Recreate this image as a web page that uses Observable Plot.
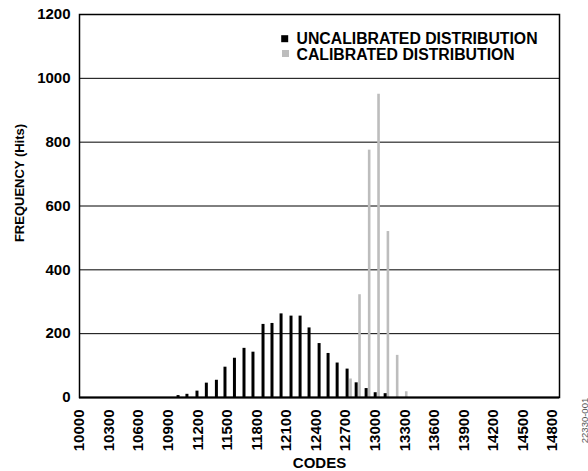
<!DOCTYPE html>
<html><head><meta charset="utf-8">
<script src="https://cdn.jsdelivr.net/npm/d3@7"></script>
<script src="https://cdn.jsdelivr.net/npm/@observablehq/plot@0.6"></script>
<style>
body{margin:0;background:#fff;}
#chart{width:588px;height:471px;}
</style></head><body><div id="chart"></div>
<script>
const uncalCodes = [11000, 11090, 11192, 11287, 11389, 11476, 11572, 11669, 11760, 11862, 11953, 12045, 12146, 12238, 12329, 12431, 12522, 12614, 12715, 12807, 12908, 13000, 13101];
const uncalHits  = [6, 10, 20, 45, 54, 95, 123, 154, 142, 229, 232, 262, 255, 255, 218, 169, 138, 108, 89, 46, 28, 15, 12];
const calCodes = [12750, 12841, 12939, 13034, 13129, 13223, 13315];
const calHits  = [58, 322, 775, 950, 520, 132, 18];
const xTicks = [10000, 10300, 10600, 10900, 11200, 11500, 11800, 12100, 12400, 12700, 13000, 13300, 13600, 13900, 14200, 14500, 14800];
const yTicks = [0, 200, 400, 600, 800, 1000, 1200];
const gridTicks = [200, 400, 600, 800, 1000];
const legendLabels = ["UNCALIBRATED DISTRIBUTION", "CALIBRATED DISTRIBUTION"];
const seriesColors = ["#000000", "#bdbdbd"];

const uncal = uncalCodes.map((c, i) => ({code: c, hits: uncalHits[i]}));
const cal = calCodes.map((c, i) => ({code: c, hits: calHits[i]}));

const font = "'Liberation Sans', Arial, Helvetica, sans-serif";

const chart = Plot.plot({
  width: 588, height: 471,
  marginLeft: 79, marginRight: 29, marginTop: 14, marginBottom: 74,
  style: {fontFamily: font, fontWeight: "bold", fontSize: "15px", background: "#fff", color: "#000", overflow: "visible"},
  x: {domain: [10000, 14870], label: null},
  y: {domain: [0, 1200], label: null},
  marks: [
    Plot.ruleY(gridTicks, {stroke: "#000", strokeWidth: 1}),
    Plot.ruleX(cal, {x: "code", y1: 0, y2: "hits", stroke: seriesColors[1], strokeWidth: 2.6}),
    Plot.ruleX(uncal, {x: "code", y1: 0, y2: "hits", stroke: seriesColors[0], strokeWidth: 3}),
    Plot.frame({stroke: "#000", strokeWidth: 1.5}),
    Plot.ruleY([0], {stroke: "#000", strokeWidth: 2}),
    Plot.axisY(yTicks, {tickSize: 0, tickPadding: 9, fontSize: 15, fontWeight: "bold", label: null, tickFormat: d => String(d)}),
    Plot.axisX(xTicks, {tickSize: 0, tickPadding: 12, tickRotate: -90, fontSize: 15, fontWeight: "bold", label: null, tickFormat: d => String(d)}),
    Plot.text(["FREQUENCY (Hits)"], {frameAnchor: "left", dx: -60, dy: -23, rotate: -90, textAnchor: "middle", lineAnchor: "middle", fontSize: 13, fontWeight: "bold"}),
    Plot.text(["CODES"], {frameAnchor: "bottom", dy: 66, lineAnchor: "middle", textAnchor: "middle", fontSize: 15, fontWeight: "bold"}),
    Plot.dot([legendLabels[0]], {frameAnchor: "top-left", dx: 205.2, dy: 24.2, symbol: "square", r: 3.95, fill: seriesColors[0], stroke: null}),
    Plot.text([legendLabels[0]], {frameAnchor: "top-left", dx: 217, dy: 24.5, textAnchor: "start", lineAnchor: "middle", fontSize: 15.8, fontWeight: "bold"}),
    Plot.dot([legendLabels[1]], {frameAnchor: "top-left", dx: 206, dy: 39, symbol: "square", r: 3.95, fill: seriesColors[1], stroke: null}),
    Plot.text([legendLabels[1]], {frameAnchor: "top-left", dx: 217, dy: 40.5, textAnchor: "start", lineAnchor: "middle", fontSize: 15.8, fontWeight: "bold"}),
    Plot.text(["22330-001"], {frameAnchor: "bottom-right", dx: 25, dy: 23, rotate: -90, textAnchor: "middle", lineAnchor: "middle", fontSize: 9.5, fontWeight: "normal", fill: "#555"})
  ]
});
document.getElementById("chart").appendChild(chart);
</script>
</body></html>
